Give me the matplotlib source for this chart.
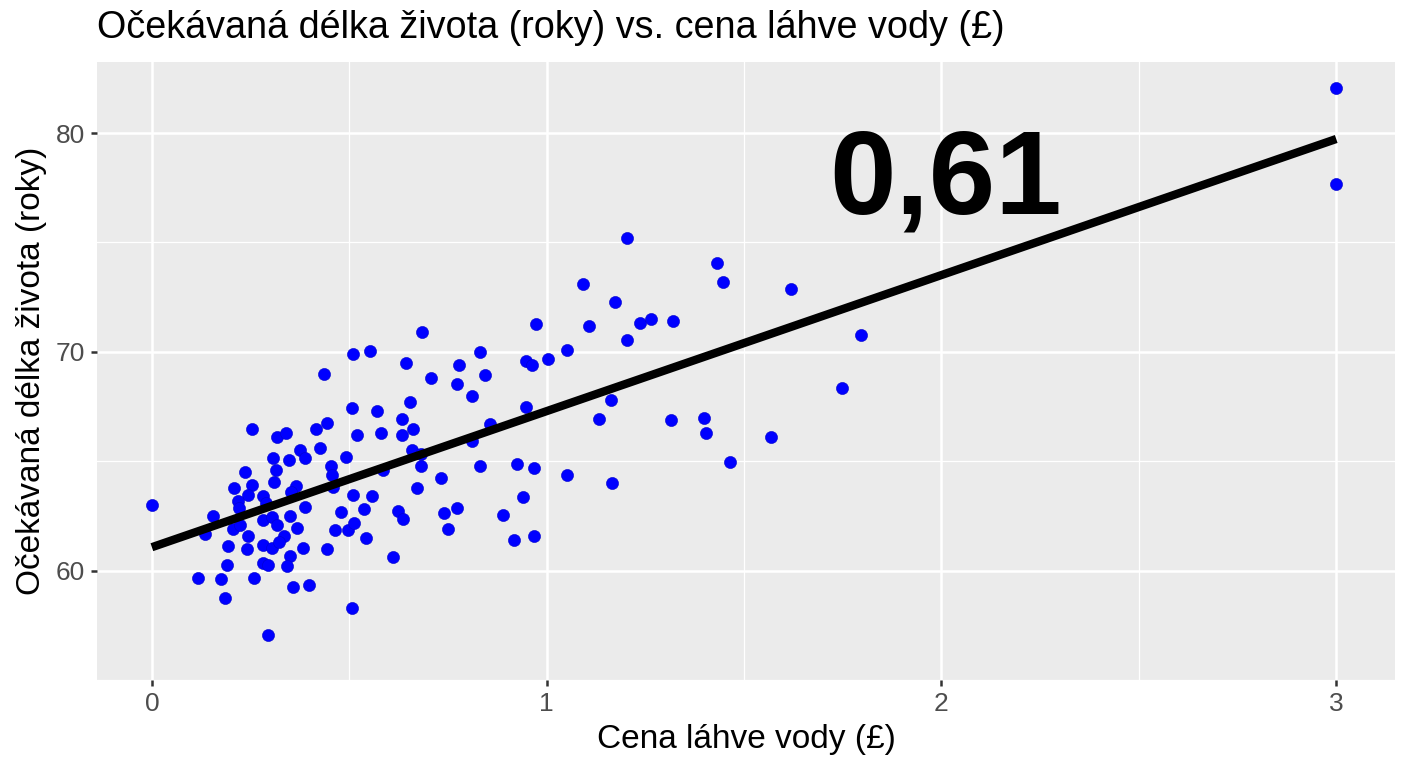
import numpy as np
import matplotlib
matplotlib.use("Agg")
import matplotlib.pyplot as plt

plt.rcParams["font.family"] = ["Liberation Sans", "DejaVu Sans"]

# cena lahve vody (GBP)
price = [3.00, 3.00, 1.203, 1.431, 1.447, 1.092, 1.619, 1.173, 0.973, 1.107,
         1.236, 1.264, 1.320, 1.796, 1.203, 1.051, 1.003, 0.948, 0.963, 1.748,
         1.163, 0.948, 1.133, 1.315, 1.399, 1.404, 1.568, 1.464, 0.925, 0.968,
         1.051, 1.165, 0.940, 0.684, 0.509, 0.552, 0.436, 0.644, 0.831, 0.778,
         0.844, 0.707, 0.773, 0.811, 0.507, 0.570, 0.654, 0.633, 0.661, 0.633,
         0.580, 0.519, 0.443, 0.416, 0.856, 0.426, 0.492, 0.454, 0.456, 0.659,
         0.682, 0.682, 0.811, 0.585, 0.732, 0.671, 0.831, 0.388, 0.509, 0.557,
         0.537, 0.479, 0.623, 0.636, 0.740, 0.773, 0.750, 0.889, 0.464, 0.497,
         0.512, 0.542, 0.443, 0.383, 0.611, 0.917, 0.968, 0.398, 0.507, 0.000,
         0.253, 0.317, 0.339, 0.307, 0.347, 0.375, 0.388, 0.236, 0.314, 0.309,
         0.365, 0.352, 0.208, 0.253, 0.243, 0.218, 0.220, 0.281, 0.459, 0.155,
         0.134, 0.205, 0.281, 0.304, 0.317, 0.350, 0.367, 0.243, 0.193, 0.241,
         0.281, 0.304, 0.334, 0.350, 0.342, 0.281, 0.294, 0.190, 0.117, 0.175,
         0.258, 0.185, 0.357, 0.294, 0.289, 0.322, 0.223]

# ocekavana delka zivota (roky)
life = [82.04, 77.69, 75.20, 74.04, 73.20, 73.11, 72.89, 72.27, 71.29, 71.16,
        71.33, 71.51, 71.42, 70.76, 70.53, 70.09, 69.69, 69.56, 69.38, 68.36,
        67.78, 67.47, 66.93, 66.89, 66.98, 66.27, 66.13, 64.98, 64.89, 64.71,
        64.36, 64.00, 63.38, 70.93, 69.91, 70.04, 68.98, 69.47, 70.00, 69.38,
        68.93, 68.80, 68.53, 68.00, 67.42, 67.29, 67.73, 66.93, 66.49, 66.22,
        66.31, 66.18, 66.76, 66.49, 66.71, 65.60, 65.20, 64.80, 64.36, 65.51,
        65.33, 64.80, 65.91, 64.58, 64.22, 63.78, 64.76, 62.93, 63.47, 63.42,
        62.80, 62.67, 62.71, 62.36, 62.62, 62.84, 61.91, 62.53, 61.87, 61.87,
        62.18, 61.47, 60.98, 61.02, 60.62, 61.42, 61.56, 59.33, 58.31, 63.02,
        66.49, 66.13, 66.31, 65.16, 65.07, 65.51, 65.16, 64.53, 64.58, 64.04,
        63.87, 63.60, 63.78, 63.91, 63.47, 63.20, 62.84, 63.42, 63.82, 62.49,
        61.69, 61.91, 62.31, 62.44, 62.09, 62.49, 61.96, 61.56, 61.11, 60.98,
        61.16, 61.02, 61.56, 60.67, 60.22, 60.36, 60.27, 60.27, 59.64, 59.60,
        59.64, 58.76, 59.24, 57.07, 63.11, 61.33, 62.09]

# regresni primka
intercept = 61.07
slope = 6.22
corr_label = "0,61"

fig = plt.figure(figsize=(14.08, 7.68), dpi=100)
ax = fig.add_axes([0.0689, 0.1146, 0.9219, 0.8044])
ax.set_facecolor("#EBEBEB")
for s in ax.spines.values():
    s.set_visible(False)

ax.set_xlim(-0.139, 3.149)
ax.set_ylim(55.78, 83.24)
ax.set_xticks([0, 1, 2, 3])
ax.set_yticks([60, 70, 80])
ax.set_xticks([0.5, 1.5, 2.5], minor=True)
ax.set_yticks([55, 65, 75], minor=True)
ax.grid(which="major", color="white", linewidth=1.8)
ax.grid(which="minor", color="white", linewidth=0.9)
ax.set_axisbelow(True)
ax.tick_params(which="major", length=4.5, width=1.8, color="#333333",
               labelsize=19, labelcolor="#4D4D4D", pad=4)
ax.tick_params(which="minor", length=0)

ax.scatter(price, life, s=76, color="#0000FF", zorder=3,
           edgecolors="#0000CC", linewidths=0.4)

xs = np.array([min(price), max(price)])
ax.plot(xs, intercept + slope * xs, color="black", linewidth=6, zorder=4,
        solid_capstyle="butt")

ax.text(2.01, 77.7, corr_label, fontsize=86, fontweight="bold",
        ha="center", va="center", color="black", zorder=5)

ax.set_xlabel("Cena láhve vody (£)", fontsize=24, labelpad=6)
ax.set_ylabel("Očekávaná délka života (roky)", fontsize=24, labelpad=6)
fig.text(0.0689, 0.9505, "Očekávaná délka života (roky) vs. cena láhve vody (£)",
         fontsize=27.2, ha="left", va="baseline")

fig.savefig("out.png", dpi=100)
